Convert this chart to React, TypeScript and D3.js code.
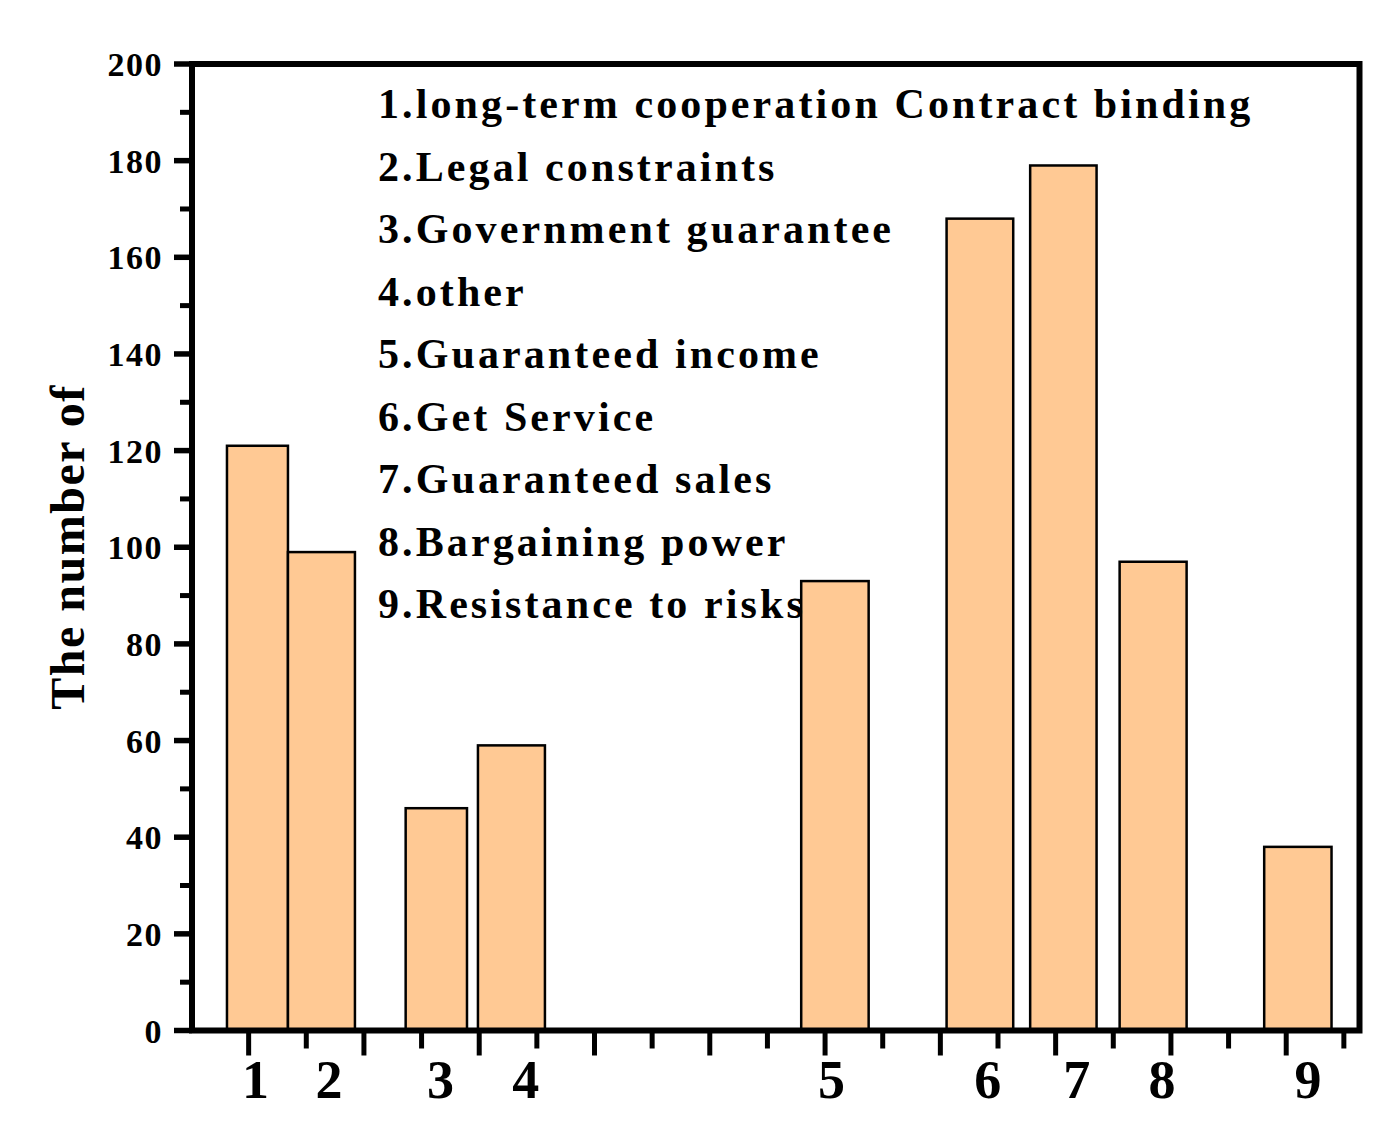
import React from "react";
import * as d3 from "d3";

const categories = ["1", "2", "3", "4", "5", "6", "7", "8", "9"];
const values = [121, 99, 46, 59, 93, 168, 179, 97, 38];
// bar extents along the numeric x axis (data units)
const barLeft = [0.812, 1.341, 2.362, 2.989, 5.793, 7.054, 7.779, 8.555, 9.809];
const barRight = [1.341, 1.922, 2.894, 3.57, 6.378, 7.632, 8.355, 9.136, 10.393];
// x positions (data units) of the category labels under the axis
const labelX = [1.059, 1.697, 2.665, 3.404, 6.055, 7.412, 8.183, 8.922, 10.188];
const legendItems = [
  "1.long-term cooperation Contract binding",
  "2.Legal constraints",
  "3.Government guarantee",
  "4.other",
  "5.Guaranteed income",
  "6.Get Service",
  "7.Guaranteed sales",
  "8.Bargaining power",
  "9.Resistance to risks",
];
const yTickValues = [0, 20, 40, 60, 80, 100, 120, 140, 160, 180, 200];
const yAxisTitle = "The number of";

export default function App() {
  const W = 1392, H = 1122;
  const left = 192, right = 1359.5, top = 64, bottom = 1030.5;
  const x = d3.scaleLinear().domain([0.5, 10.64]).range([191, 1360]);
  const y = d3.scaleLinear().domain([0, 200]).range([bottom, top]);
  const font = "'Liberation Serif', 'Times New Roman', serif";
  const xMajor = d3.range(1, 11);
  const xMinor = d3.range(1.5, 11, 1);
  const yMinor = d3.range(10, 200, 20);
  const fill = "#FFC994";

  return (
    <svg width={W} height={H} style={{ position: "absolute", left: 0, top: 0, background: "#fff" }} fontFamily={font}>
      <rect x={0} y={0} width={W} height={H} fill="#fff" />
      {/* bars */}
      {values.map((v, i) => (
        <rect
          key={i}
          x={x(barLeft[i])}
          y={y(v)}
          width={x(barRight[i]) - x(barLeft[i])}
          height={y(0) - y(v)}
          fill={fill}
          stroke="#000"
          strokeWidth={2.5}
        />
      ))}
      {/* frame */}
      <path
        d={`M${left},${bottom} L${left},${top} L${right},${top} L${right},${bottom} Z`}
        fill="none"
        stroke="#000"
        strokeWidth={6}
        strokeLinejoin="miter"
      />
      {/* y ticks */}
      {yTickValues.map((t) => (
        <line key={"ym" + t} x1={left} x2={left - 18} y1={y(t)} y2={y(t)} stroke="#000" strokeWidth={5.5} />
      ))}
      {yMinor.map((t) => (
        <line key={"yn" + t} x1={left} x2={left - 12} y1={y(t)} y2={y(t)} stroke="#000" strokeWidth={5} />
      ))}
      {yTickValues.map((t) => (
        <text
          key={"yl" + t}
          x={163}
          y={y(t) + 12}
          textAnchor="end"
          fontSize={34}
          fontWeight="bold"
          letterSpacing={1.5}
        >
          {t}
        </text>
      ))}
      {/* x ticks */}
      {xMajor.map((t) => (
        <line key={"xm" + t} x1={x(t)} x2={x(t)} y1={bottom} y2={bottom + 25} stroke="#000" strokeWidth={5} />
      ))}
      {xMinor.map((t) => (
        <line key={"xn" + t} x1={x(t)} x2={x(t)} y1={bottom} y2={bottom + 18} stroke="#000" strokeWidth={5} />
      ))}
      {categories.map((c, i) => (
        <text key={"xl" + c} x={x(labelX[i])} y={1098} textAnchor="middle" fontSize={54} fontWeight="bold">
          {c}
        </text>
      ))}
      {/* y axis title */}
      <text
        transform={`translate(84, 547) rotate(-90)`}
        textAnchor="middle"
        fontSize={48}
        fontWeight="bold"
        letterSpacing={1.5}
      >
        {yAxisTitle}
      </text>
      {/* legend text */}
      {legendItems.map((s, i) => (
        <text key={"lg" + i} x={378} y={118 + i * 62.5} fontSize={42} fontWeight="bold" letterSpacing={3.1}>
          {s}
        </text>
      ))}
    </svg>
  );
}
